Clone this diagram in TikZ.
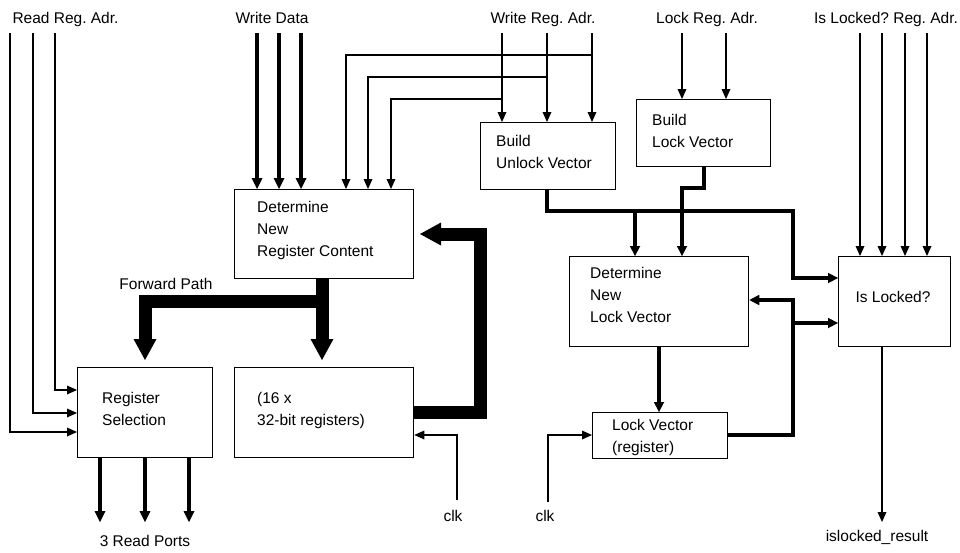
\documentclass[tikz,border=0pt]{standalone}
\usepackage{fontspec}
\setmainfont{Liberation Sans}
\usetikzlibrary{arrows.meta}
\frenchspacing
\begin{document}
\begin{tikzpicture}[x=1pt,y=-1pt,
  box/.style={draw, line width=1.3pt, inner sep=0pt, anchor=north west},
  lbl/.style={font=\fontsize{15.5}{22}\selectfont, inner sep=0pt},
  btxt/.style={lbl, align=left, anchor=west},
  sig/.style={line width=1.3pt, -{Triangle[length=10pt,width=9pt,line width=0pt]}},
  bus/.style={line width=4pt, -{Triangle[length=11pt,width=11pt,line width=0pt]}},
  bustwo/.style={line width=3.5pt, -{Triangle[length=10pt,width=10.5pt,line width=0pt]}},
  fat/.style={line width=13pt, -{Triangle[length=21pt,width=23pt,line width=0pt]}}]
\fill[white] (0,0) rectangle (960,552);
\useasboundingbox (0,0) rectangle (960,552);

% boxes
\node[box, minimum width=179pt, minimum height=89pt] (det) at (234,189) {};
\node[box, minimum width=135pt, minimum height=90pt] (regsel) at (77,367) {};
\node[box, minimum width=179pt, minimum height=90pt] (regfile) at (234,367) {};
\node[box, minimum width=135pt, minimum height=67pt] (unl) at (480,122) {};
\node[box, minimum width=134pt, minimum height=67pt] (lockb) at (636,99) {};
\node[box, minimum width=179pt, minimum height=90pt] (detl) at (569,256) {};
\node[box, minimum width=135pt, minimum height=46pt] (lvr) at (592,412) {};
\node[box, minimum width=112pt, minimum height=90pt] (isl) at (838,256) {};

% box texts
\node[btxt] (dett) at (257,230) {Determine\\New\\Register Content};
\node[btxt] (regselt) at (102,409) {Register\\Selection};
\node[btxt] (regfilet) at (257,410) {(16 x\\32-bit registers)};
\node[btxt] (unlt) at (496,152) {Build\\Unlock Vector};
\node[btxt] (lockbt) at (652,131) {Build\\Lock Vector};
\node[btxt] (detlt) at (590,295) {Determine\\New\\Lock Vector};
\node[btxt] (lvrt) at (612,437) {Lock Vector\\(register)};
\node[lbl, anchor=base] (islt) at (893,302) {Is Locked?};

% labels
\node[lbl, anchor=base] (lrr) at (65.5,23) {Read Reg. Adr.};
\node[lbl, anchor=base] (lwd) at (272,23) {Write Data};
\node[lbl, anchor=base] (lwr) at (543,23) {Write Reg. Adr.};
\node[lbl, anchor=base] (llr) at (707,23) {Lock Reg. Adr.};
\node[lbl, anchor=base] (lir) at (886,23) {Is Locked? Reg. Adr.};
\node[lbl, anchor=base] (lfp) at (166,289) {Forward Path};
\node[lbl, anchor=base] (lrp) at (145,546) {3 Read Ports};
\node[lbl, anchor=base] (lclka) at (453,521) {clk};
\node[lbl, anchor=base] (lclkb) at (545,521) {clk};
\node[lbl, anchor=base] (lres) at (877,541) {islocked\_result};

% read register addresses
\coordinate (rr1) at (10,33);  \coordinate (rr1b) at (10,432);
\coordinate (rr2) at (33,33);  \coordinate (rr2b) at (33,413);
\coordinate (rr3) at (55,33);  \coordinate (rr3b) at (55,390);
\draw[sig] (rr1) -- (rr1b) -- (rr1b -| regsel.west);
\draw[sig] (rr2) -- (rr2b) -- (rr2b -| regsel.west);
\draw[sig] (rr3) -- (rr3b) -- (rr3b -| regsel.west);

% write data
\coordinate (wd1) at (257,33);
\coordinate (wd2) at (279,33);
\coordinate (wd3) at (301,33);
\draw[bus] (wd1) -- (wd1 |- det.north);
\draw[bus] (wd2) -- (wd2 |- det.north);
\draw[bus] (wd3) -- (wd3 |- det.north);

% write register address
\coordinate (wr1) at (502,33);
\coordinate (wr2) at (547,33);
\coordinate (wr3) at (592,33);
\draw[sig] (wr1) -- (wr1 |- unl.north);
\draw[sig] (wr2) -- (wr2 |- unl.north);
\draw[sig] (wr3) -- (wr3 |- unl.north);
\coordinate (wr3b) at (592,55);  \coordinate (dx1) at (346,55);
\coordinate (wr2b) at (547,77);  \coordinate (dx2) at (368,77);
\coordinate (wr1b) at (502,99);  \coordinate (dx3) at (391,99);
\draw[sig] (wr3b) -| (dx1 |- det.north);
\draw[sig] (wr2b) -| (dx2 |- det.north);
\draw[sig] (wr1b) -| (dx3 |- det.north);

% lock register address
\coordinate (lr1) at (682,33);
\coordinate (lr2) at (726,33);
\draw[sig] (lr1) -- (lr1 |- lockb.north);
\draw[sig] (lr2) -- (lr2 |- lockb.north);

% is locked register address
\coordinate (ir1) at (860,33);
\coordinate (ir2) at (882,33);
\coordinate (ir3) at (905,33);
\coordinate (ir4) at (927,33);
\draw[sig] (ir1) -- (ir1 |- isl.north);
\draw[sig] (ir2) -- (ir2 |- isl.north);
\draw[sig] (ir3) -- (ir3 |- isl.north);
\draw[sig] (ir4) -- (ir4 |- isl.north);

% read ports
\coordinate (rp1) at (100,522);
\coordinate (rp2) at (145,522);
\coordinate (rp3) at (189,522);
\draw[bus] (rp1 |- regsel.south) -- (rp1);
\draw[bus] (rp2 |- regsel.south) -- (rp2);
\draw[bus] (rp3 |- regsel.south) -- (rp3);

% forward path and register write
\coordinate (fp) at (322,301);
\coordinate (fpt) at (322,360);
\coordinate (fpl) at (145,301);
\coordinate (fplt) at (145,360);
\draw[fat] (fp |- det.south) -- (fpt);
\draw[fat] (fp) -- (fpl) -- (fplt);

% feedback
\coordinate (fb1) at (480,412);
\coordinate (fb2) at (480,234);
\coordinate (fbt) at (420,234);
\draw[fat] (fb1 -| regfile.east) -- (fb1) -- (fb2) -- (fbt);

% clk to register file
\coordinate (c1) at (457,500);
\coordinate (c1b) at (457,435);
\draw[sig] (c1) -- (c1b) -- (c1b -| regfile.east);

% unlock vector output
\coordinate (u1) at (547,211);
\coordinate (u2) at (793,278);
\coordinate (u3) at (635,211);
\draw[bustwo] (u1 |- unl.south) -- (u1) -| (u2) -- (u2 -| isl.west);
\draw[bustwo] (u3) -- (u3 |- detl.north);

% lock vector output
\coordinate (b1) at (704,188);
\coordinate (b2) at (682,188);
\draw[bustwo] (b1 |- lockb.south) -- (b1) -- (b2) -- (b2 |- detl.north);

% determine new lock vector -> register
\coordinate (dl) at (659,346);
\draw[bustwo] (dl |- detl.south) -- (dl |- lvr.north);

% lock vector register output
\coordinate (lv1) at (793,435);
\coordinate (lv2) at (793,300);
\coordinate (lv3) at (793,323);
\draw[bustwo] (lv1 -| lvr.east) -- (lv1) -- (lv2) -- (lv2 -| detl.east);
\draw[bustwo] (lv3) -- (lv3 -| isl.west);

% clk to lock vector register
\coordinate (c2) at (548,502);
\coordinate (c2b) at (548,435);
\draw[sig] (c2) -- (c2b) -- (c2b -| lvr.west);

% result
\coordinate (ilr) at (882,522);
\draw[sig] (ilr |- isl.south) -- (ilr);
\end{tikzpicture}
\end{document}
